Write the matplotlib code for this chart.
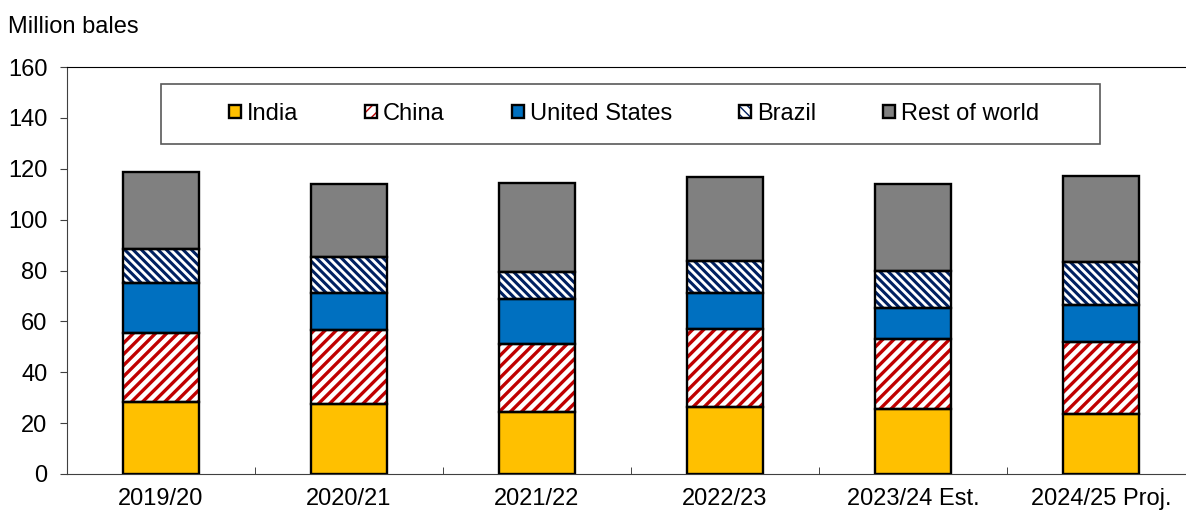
import matplotlib
matplotlib.use("Agg")
import matplotlib.pyplot as plt
import numpy as np
from matplotlib.patches import Patch, Rectangle
from matplotlib.legend_handler import HandlerTuple

plt.rcParams["font.family"] = ["Liberation Sans", "DejaVu Sans"]

years = ["2019/20", "2020/21", "2021/22", "2022/23", "2023/24 Est.", "2024/25 Proj."]
india = [28.4, 27.5, 24.2, 26.2, 25.7, 23.7]
china = [26.9, 29.0, 26.9, 30.9, 27.2, 28.3]
united_states = [19.9, 14.6, 17.6, 13.9, 12.4, 14.4]
brazil = [13.1, 14.2, 10.7, 12.6, 14.6, 16.9]
rest_of_world = [30.3, 28.6, 35.1, 33.1, 34.0, 33.7]

# name, values, face colour, hatch, hatch colour, hatch line width
series = [
    ("India", india, "#FFC000", None, None, 0),
    ("China", china, "white", "///", "#C00000", 2.4),
    ("United States", united_states, "#0070C0", None, None, 0),
    ("Brazil", brazil, "white", "\\\\\\\\", "#002060", 2.2),
    ("Rest of world", rest_of_world, "#808080", None, None, 0),
]

FS = 17

fig = plt.figure(figsize=(11.86, 5.12), dpi=100)
ax = fig.add_axes([67 / 1186, 38 / 512, 1128 / 1186, 407 / 512])

x = np.arange(len(years))
width = 0.4
bottom = np.zeros(len(years))
handles = []
for name, vals, face, hatch, hcolor, hlw in series:
    vals = np.array(vals)
    if hatch:
        with plt.rc_context({"hatch.linewidth": hlw}):
            ax.bar(x, vals, width, bottom=bottom, facecolor=face, hatch=hatch,
                   edgecolor=hcolor, linewidth=0, zorder=2)
            h1 = Patch(facecolor=face, hatch=hatch, edgecolor=hcolor, linewidth=0)
    else:
        ax.bar(x, vals, width, bottom=bottom, facecolor=face, linewidth=0, zorder=2)
        h1 = Patch(facecolor=face, linewidth=0)
    ax.bar(x, vals, width, bottom=bottom, fill=False, edgecolor="black",
           linewidth=1.7, zorder=3)
    h2 = Patch(fill=False, edgecolor="black", linewidth=1.7)
    handles.append((h1, h2))
    bottom += vals

ax.set_xlim(-0.5, len(years) - 0.5)
ax.set_ylim(0, 160)
ax.set_yticks(range(0, 161, 20))
ax.set_xticks(x)
ax.set_xticklabels(years)
ax.set_xticks(np.arange(0.5, len(years) - 0.5, 1), minor=True)
ax.tick_params(axis="x", which="major", length=0, labelsize=FS, pad=10)
ax.tick_params(axis="x", which="minor", direction="in", length=5, color="#262626")
ax.tick_params(axis="y", direction="out", length=5, labelsize=FS, pad=9,
               color="#404040")
for side in ["left", "bottom"]:
    ax.spines[side].set_color("#404040")
ax.spines["top"].set_color("black")
ax.spines["right"].set_visible(False)

fig.text(8 / 1186, 1 - 27 / 512, "Million bales", fontsize=FS, va="center", ha="left")

# legend box
ax.add_patch(Rectangle((161 / 1186, 1 - 144 / 512), 939 / 1186, 60 / 512,
                       transform=fig.transFigure, fill=False, edgecolor="#595959",
                       linewidth=1.2, zorder=4, clip_on=False))
ax.legend(handles, [s[0] for s in series], ncol=5, frameon=False,
          loc="center", bbox_to_anchor=(634 / 1186, 1 - 114 / 512),
          bbox_transform=fig.transFigure, fontsize=FS,
          handler_map={tuple: HandlerTuple(ndivide=1)},
          handlelength=0.5, handleheight=0.5, handletextpad=0.25,
          columnspacing=2.85)

fig.savefig("out.png", dpi=100)
